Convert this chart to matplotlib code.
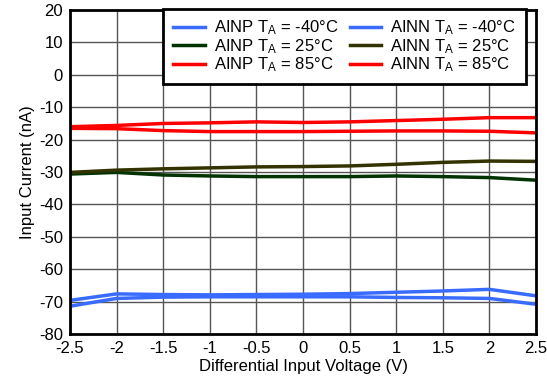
import matplotlib.pyplot as plt

plt.rcParams['font.family'] = ['Liberation Sans', 'DejaVu Sans']
plt.rcParams['mathtext.default'] = 'regular'
plt.rcParams['axes.unicode_minus'] = False

volts = [-2.5, -2, -1.5, -1, -0.5, 0, 0.5, 1, 1.5, 2, 2.5]

# input current in nA
ainp_m40 = [-71.4, -69.0, -68.6, -68.5, -68.5, -68.5, -68.5, -68.7, -68.8, -69.0, -70.8]
ainp_25 = [-30.6, -30.1, -30.9, -31.2, -31.4, -31.4, -31.4, -31.2, -31.4, -31.7, -32.5]
ainp_85 = [-16.5, -16.6, -17.2, -17.5, -17.5, -17.5, -17.4, -17.3, -17.3, -17.4, -17.9]
ainn_m40 = [-69.6, -67.6, -67.8, -67.9, -67.8, -67.7, -67.5, -67.1, -66.7, -66.2, -68.2]
ainn_25 = [-30.1, -29.4, -29.0, -28.7, -28.4, -28.3, -28.1, -27.6, -27.0, -26.6, -26.7]
ainn_85 = [-16.0, -15.6, -15.0, -14.8, -14.5, -14.7, -14.5, -14.1, -13.7, -13.2, -13.2]

blue = '#3a6bff'
green = '#003300'
olive = '#333300'
red = '#ff0000'

fig = plt.figure(figsize=(5.47, 3.88), dpi=100)
ax = fig.add_axes([0.128, 0.139, 0.852, 0.835])

lw = 2.5
ax.plot(volts, ainp_m40, color=blue, lw=lw, label='AINP $T_A$ = -40°C')
ax.plot(volts, ainp_25, color=green, lw=lw, label='AINP $T_A$ = 25°C')
ax.plot(volts, ainp_85, color=red, lw=lw, label='AINP $T_A$ = 85°C')
ax.plot(volts, ainn_m40, color=blue, lw=lw, label='AINN $T_A$ = -40°C')
ax.plot(volts, ainn_25, color=olive, lw=lw, label='AINN $T_A$ = 25°C')
ax.plot(volts, ainn_85, color=red, lw=lw, label='AINN $T_A$ = 85°C')

fs = 12
ax.set_xlim(-2.5, 2.5)
ax.set_ylim(-80, 20)
ax.set_xticks(volts)
ax.set_xticklabels(['-2.5', '-2', '-1.5', '-1', '-0.5', '0', '0.5', '1', '1.5', '2', '2.5'])
ax.set_yticks(range(-80, 21, 10))
ax.tick_params(labelsize=fs, length=0, pad=5)
ax.grid(True, color='#555555', lw=1)
ax.set_axisbelow(True)
for s in ax.spines.values():
    s.set_linewidth(2)
    s.set_color('black')

ax.set_xlabel('Differential Input Voltage (V)', fontsize=fs, labelpad=2)
ax.set_ylabel('Input Current (nA)', fontsize=fs, labelpad=3)

leg = ax.legend(loc='upper right', ncol=2, fontsize=fs, frameon=True, fancybox=False,
                handlelength=1.9, columnspacing=0.65, handletextpad=0.55,
                labelspacing=-0.02, borderpad=0.6, framealpha=1,
                bbox_to_anchor=(0.997, 1.03))
leg.get_frame().set_edgecolor('black')
leg.get_frame().set_linewidth(2)

fig.savefig('out.png', dpi=100)
